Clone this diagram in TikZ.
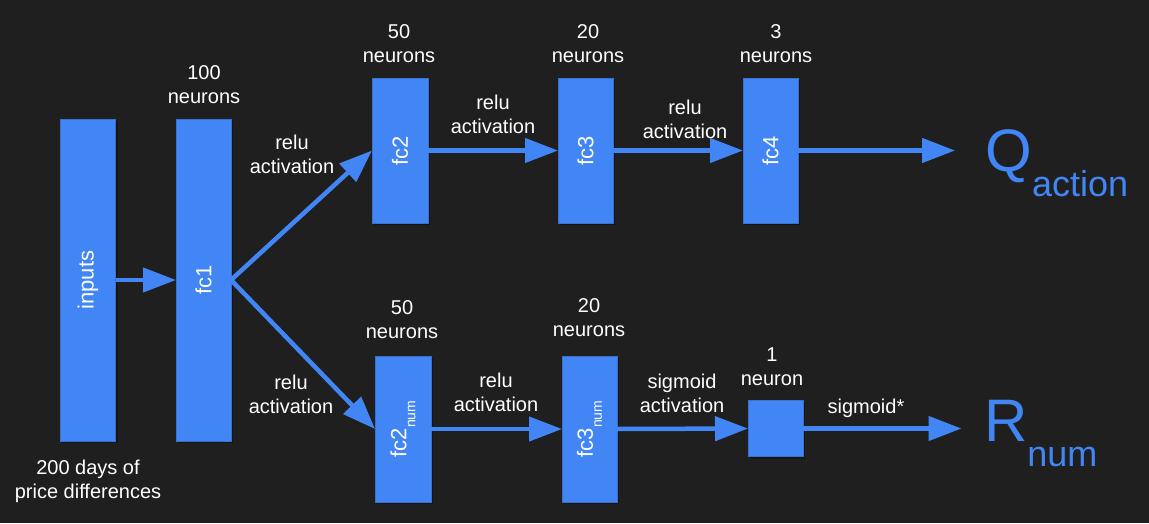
\documentclass[tikz,border=0pt]{standalone}
\usepackage{fontspec}
\setmainfont{Liberation Sans}
\usetikzlibrary{arrows.meta,shadows}
\definecolor{bg}{HTML}{1F1F1F}
\definecolor{netblue}{HTML}{4285F4}
\newcommand{\boxsub}[1]{\raisebox{-9pt}{\fontsize{14}{14}\selectfont #1}}
\newcommand{\outsub}[1]{\raisebox{-24.5pt}{\fontsize{36}{36}\selectfont #1}}

\begin{document}
\begin{tikzpicture}
[every node/.style={inner sep=0pt, outer sep=0pt},
 layer/.style={rectangle, fill=netblue, draw=netblue!85!black, line width=0.6pt, minimum width=55pt, text=white, font=\fontsize{22}{22}\selectfont, drop shadow={shadow xshift=2pt, shadow yshift=-2pt, opacity=0.35, fill=black}},
 note/.style={align=center, text=white, font=\fontsize{20}{24}\selectfont},
 result/.style={anchor=base west, text=netblue, font=\fontsize{60}{60}\selectfont},
 link/.style={line width=4.5pt, color=netblue, -{Triangle[length=33pt, width=24pt]}}]
\fill [bg] (0pt, 0pt) rectangle (1149pt, -523pt);
\node (in) [layer, minimum height=322pt] at (88pt, -280pt) {\rotatebox{90}{inputs}};
\node (fc1) [layer, minimum height=322pt] at (203.5pt, -280pt) {\rotatebox{90}{fc1}};
\node (fc2) [layer, minimum width=56pt, minimum height=145pt] at (400pt, -150.5pt) {\rotatebox{90}{fc2}};
\node (fc3) [layer, minimum height=145pt] at (585.5pt, -150.5pt) {\rotatebox{90}{fc3}};
\node (fc4) [layer, minimum height=145pt] at (770.5pt, -150.5pt) {\rotatebox{90}{fc4}};
\node (fc2n) [layer, minimum width=56pt, minimum height=146pt] at (403pt, -429pt) {\rotatebox{90}{fc2\boxsub{num}}};
\node (fc3n) [layer, minimum height=146pt] at (589.5pt, -429pt) {\rotatebox{90}{fc3\boxsub{num}}};
\node (one) [layer, minimum height=56pt] at (775.5pt, -428.5pt) {};
\node (q) [result] at (985.5pt, -171.7pt) {Q\outsub{action}};
\node (r) [result] at (984pt, -441.7pt) {R\outsub{num}};
\coordinate (qin) at (955pt, -150.5pt);
\coordinate (rin) at (961.5pt, -428.5pt);
% sizes and activations
\node (n1) [note] at (204pt, -85pt) {100\\neurons};
\node (n2) [note] at (399pt, -44pt) {50\\neurons};
\node (n3) [note] at (588pt, -44pt) {20\\neurons};
\node (n4) [note] at (776pt, -44pt) {3\\neurons};
\node (n2n) [note] at (402pt, -320pt) {50\\neurons};
\node (n3n) [note] at (589pt, -318pt) {20\\neurons};
\node (n1n) [note] at (772pt, -367pt) {1\\neuron};
\node (a1) [note] at (292pt, -154.5pt) {relu\\activation};
\node (a2) [note] at (493pt, -114pt) {relu\\activation};
\node (a3) [note] at (685pt, -119pt) {relu\\activation};
\node (a1n) [note] at (291pt, -394pt) {relu\\activation};
\node (a2n) [note] at (496pt, -392pt) {relu\\activation};
\node (a3n) [note] at (682pt, -393pt) {sigmoid\\activation};
\node (a4n) [note] at (866pt, -408.5pt) {sigmoid*};
\node (src) [note] at (88pt, -481.5pt) {200 days of\\price differences};
\draw [link] (in) -- (fc1);
\draw [link] (fc1.east) -- (fc2.west);
\draw [link] (fc1.east) -- (fc2n.west);
\draw [link] (fc2) -- (fc3);
\draw [link] (fc3) -- (fc4);
\draw [link] (fc4) -- (qin);
\draw [link] (fc2n) -- (fc3n);
\draw [link] (fc3n) -- (one);
\draw [link] (one) -- (rin);
\end{tikzpicture}
\end{document}
